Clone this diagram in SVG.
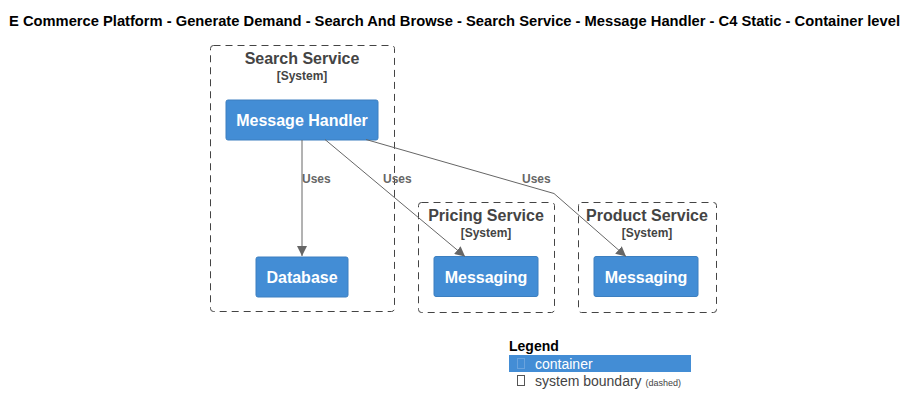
<svg xmlns="http://www.w3.org/2000/svg" width="918" height="415" viewBox="0 0 918 415">
<defs>
<style>
text{font-family:"Liberation Sans",Arial,sans-serif}
.title{font-size:14px;font-weight:bold;fill:#000}
.bnd{fill:none;stroke:#444;stroke-width:1;stroke-dasharray:7,5}
.bname{font-size:16px;font-weight:bold;fill:#444;text-anchor:middle}
.btype{font-size:12px;font-weight:bold;fill:#444;text-anchor:middle}
.node rect{fill:#438DD5;stroke:#3C7FC0;stroke-width:1}
.node text{font-size:16px;font-weight:bold;fill:#fff;text-anchor:middle}
.edge{fill:none;stroke:#666;stroke-width:1}
.elabel{font-size:12px;font-weight:bold;fill:#666}
</style>
<marker id="arr" viewBox="0 0 10 10" refX="10" refY="5" markerWidth="10" markerHeight="10" markerUnits="userSpaceOnUse" orient="auto">
<path d="M0,0 L10,5 L0,10 Z" fill="#666"/>
</marker>
</defs>
<rect width="918" height="415" fill="#fff"/>
<text class="title" x="9" y="26" textLength="891" lengthAdjust="spacingAndGlyphs">E Commerce Platform - Generate Demand - Search And Browse - Search Service - Message Handler - C4 Static - Container level</text>

<g id="search-service">
<rect class="bnd" x="210.5" y="45.5" width="184" height="266" rx="3"/>
<text class="bname" x="302" y="64">Search Service</text>
<text class="btype" x="302" y="80">[System]</text>
</g>
<g id="pricing-service">
<rect class="bnd" x="418.5" y="202.5" width="136" height="110" rx="3"/>
<text class="bname" x="486" y="221">Pricing Service</text>
<text class="btype" x="486" y="237">[System]</text>
</g>
<g id="product-service">
<rect class="bnd" x="578.5" y="202.5" width="138" height="110" rx="3"/>
<text class="bname" x="647" y="221">Product Service</text>
<text class="btype" x="647" y="237">[System]</text>
</g>

<g id="message-handler" class="node">
<rect x="226" y="100" width="152" height="40" rx="2"/>
<text x="302" y="126">Message Handler</text>
</g>
<g id="database" class="node">
<rect x="256" y="257" width="92" height="40" rx="2"/>
<text x="302" y="283">Database</text>
</g>
<g id="pricing-messaging" class="node">
<rect x="434" y="256.5" width="104" height="40" rx="2"/>
<text x="486" y="283">Messaging</text>
</g>
<g id="product-messaging" class="node">
<rect x="594" y="256.5" width="104" height="40" rx="2"/>
<text x="646" y="283">Messaging</text>
</g>

<g id="connectors">
<path class="edge" d="M302,140 L302,256" marker-end="url(#arr)"/>
<text class="elabel" x="302" y="183">Uses</text>
<path class="edge" d="M325,139.5 L465,256.5" marker-end="url(#arr)"/>
<text class="elabel" x="383" y="183">Uses</text>
<path class="edge" d="M366,139.5 L554,193.5 L626,256.5" marker-end="url(#arr)"/>
<text class="elabel" x="522" y="183">Uses</text>
</g>

<g id="legend">
<text x="509" y="351" style="font-size:14px;font-weight:bold;fill:#000">Legend</text>
<rect x="509" y="355" width="182" height="17" fill="#438DD5"/>
<rect x="517.5" y="358.5" width="7" height="10" fill="none" stroke="#6aa3dd" stroke-width="1"/>
<text x="535" y="368.5" style="font-size:14px;fill:#fff">container</text>
<rect x="517.5" y="375.5" width="7" height="10" fill="none" stroke="#555" stroke-width="1"/>
<text x="535" y="385.5" style="font-size:14px;fill:#444">system boundary <tspan style="font-size:9px">(dashed)</tspan></text>
</g>
</svg>
